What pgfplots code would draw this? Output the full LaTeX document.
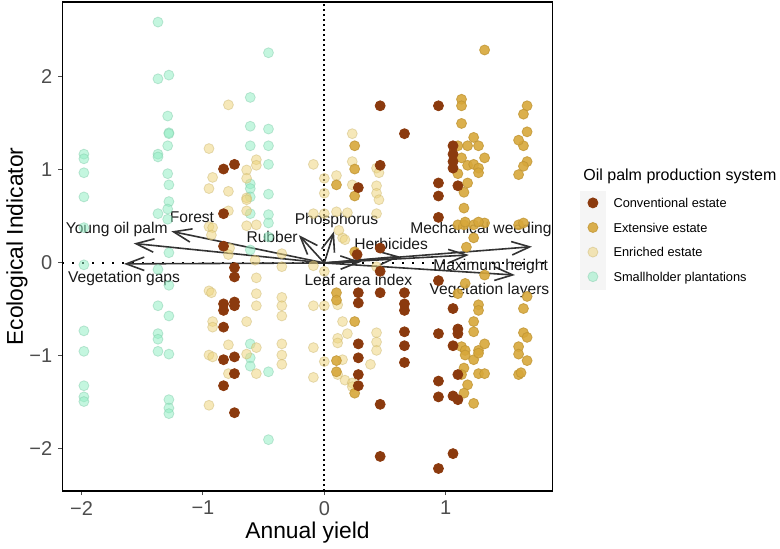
\documentclass[border=0pt]{standalone}
\usepackage{fontspec}
\setmainfont{Liberation Sans}
\usepackage{pgfplots}
\pgfplotsset{compat=1.18}
\usetikzlibrary{arrows.meta}
\definecolor{cConv}{HTML}{8B3A0E}
\definecolor{cExt}{HTML}{D7A73A}
\definecolor{cEnr}{HTML}{EED580}
\definecolor{cSmall}{HTML}{94EEC5}
\definecolor{tickgray}{HTML}{4D4D4D}
\definecolor{arrowgray}{HTML}{333333}
\begin{document}
\begin{tikzpicture}
\path[use as bounding box] (-31.15pt,-28.5pt) rectangle (358.85pt,245.5pt);
\fill[black!4] (258.85pt,100.5pt) rectangle (271.7pt,150.2pt);
\node[anchor=base west, inner sep=0pt, font=\fontsize{8}{9.6}\selectfont] at (260.35pt,155.1pt) {Oil palm production system};
\begin{axis}[
  scale only axis, width=245.2pt, height=244.5pt,
  xmin=-2.158, xmax=1.881, ymin=-2.452, ymax=2.806,
  axis line style={draw=none},
  tick align=outside, major tick length=2pt,
  xtick pos=lower, ytick pos=left,
  tick style={tickgray, line width=0.5pt},
  xtick={-2,-1,0,1}, xticklabels={−2,−1,0,1},
  ytick={-2,-1,0,1,2}, yticklabels={−2,−1,0,1,2},
  ticklabel style={font=\fontsize{10}{12}\selectfont, text=tickgray},
  xticklabel style={inner sep=0pt, anchor=north, yshift=-2.9pt},
  yticklabel style={inner sep=0pt, anchor=east, xshift=-2.8pt},
  xlabel={Annual yield}, ylabel={Ecological Indicator},
  label style={font=\fontsize{11.4}{13.7}\selectfont},
  xlabel style={at={(axis description cs:0.5,-0.0859)}, anchor=center},
  ylabel style={at={(axis description cs:-0.0924,0.5)}, anchor=center},
  reverse legend,
  legend style={at={(axis description cs:1.0718,0.5994)}, anchor=north west,
    draw=none, fill=none, inner sep=0pt, outer sep=0pt,
    row sep=7.3pt, column sep=7.8pt,
    font=\fontsize{6.4}{7.7}\selectfont,
    nodes={inner sep=0pt, anchor=base west, text height=4.6pt, text depth=0pt}},
  legend cell align=left,
  legend image code/.code={\draw[#1] plot coordinates {(0pt,2.3pt)};},
]
% Smallholder plantations
\addplot[only marks, mark=*, mark size=2.5pt, mark options={fill=cSmall, draw=cSmall!85!black, fill opacity=0.55, draw opacity=0.45, line width=0.4pt}] coordinates {
(-1.98,1.17) (-1.98,1.12) (-1.98,0.97) (-1.98,0.71) (-1.98,0.38)
(-1.37,2.59) (-1.37,1.98) (-1.37,1.17) (-1.37,1.14) (-1.37,0.53)
(-1.28,2.02) (-1.29,1.58) (-1.28,1.40) (-1.28,1.39) (-1.29,1.26) (-1.29,0.96) (-1.28,0.84) (-1.28,0.66) (-1.29,0.58) (-1.29,0.47)
(-0.61,1.78) (-0.61,1.47) (-0.61,1.26) (-0.61,0.85) (-0.61,0.80) (-0.61,0.71) (-0.61,0.53)
(-0.46,2.26) (-0.46,1.44) (-0.46,1.26) (-0.46,1.06) (-0.46,0.74) (-0.46,0.52) (-0.46,0.43) (-0.46,0.28)
(-1.98,-0.02) (-1.98,-0.73) (-1.98,-0.95) (-1.98,-1.32) (-1.98,-1.44) (-1.98,-1.49)
(-1.37,-0.07) (-1.37,-0.76) (-1.37,-0.82) (-1.37,-0.95) (-1.37,-0.46)
(-1.28,0.11) (-1.28,-0.24) (-1.28,-0.57) (-1.28,-0.98) (-1.28,-1.47) (-1.28,-1.56) (-1.28,-1.62)
(-0.61,0.14) (-0.61,-0.87) (-0.61,-1.02) (-0.61,-1.11)
(-0.46,-1.17) (-0.46,-1.90)
};
\addlegendentry{Smallholder plantations}
% Enriched estate
\addplot[only marks, mark=*, mark size=2.5pt, mark options={fill=cEnr, draw=cEnr!85!black, fill opacity=0.55, draw opacity=0.45, line width=0.4pt}] coordinates {
(-0.95,1.23) (-0.95,0.80) (-0.95,0.39) (-0.92,0.92) (-0.92,0.38) (-0.93,0.30) (-0.79,1.70) (-0.79,0.77) (-0.79,0.56)
(-0.64,1.00) (-0.64,0.91) (-0.64,0.70) (-0.64,0.68) (-0.64,0.56) (-0.64,0.40) (-0.56,1.11) (-0.56,1.05)
(-0.09,1.06) (-0.09,0.53) (0.0,0.91) (0.0,0.75) (0.0,0.53) (-0.56,0.41) (0.10,0.55) (0.19,0.54) (0.15,0.27)
(-0.78,0.16) (-0.57,0.03) (-0.35,0.10) (-0.35,-0.04)
(0.23,1.39) (0.23,1.09) (0.23,0.84) (0.43,1.02) (0.45,0.97) (0.43,0.83) (0.43,0.75) (0.45,0.68) (0.43,0.53)
(0.10,0.94) (0.12,0.35) (0.17,0.25)
(-0.95,-0.30) (-0.93,-0.32) (-0.92,-0.63) (-0.92,-0.69) (-0.95,-0.99) (-0.92,-1.01) (-0.95,-1.53)
(-0.79,0.09) (-0.79,-0.88) (-0.79,-1.19) (-0.64,-0.63) (-0.64,-0.98)
(-0.56,-0.16) (-0.56,-0.33) (-0.56,-0.46) (-0.56,-0.91) (-0.56,-1.19)
(-0.35,-0.37) (-0.35,-0.46) (-0.35,-0.57) (-0.35,-0.87) (-0.35,-0.99) (-0.35,-1.09)
(-0.09,-0.03) (-0.09,-0.46) (-0.09,-0.91) (-0.09,-1.23) (0.0,-0.09) (0.0,-0.46) (0.0,-1.06)
(0.11,-0.45) (0.15,-0.63) (0.19,-0.76) (0.11,-0.81) (0.11,-0.86) (0.15,-1.04) (0.11,-1.20) (0.17,-1.26) (0.23,-1.29) (0.23,-1.33)
(0.43,-0.04) (0.43,-0.75) (0.43,-0.85) (0.43,-0.94) (0.38,-1.09)
};
\addlegendentry{Enriched estate}
% Extensive estate
\addplot[only marks, mark=*, mark size=2.5pt, mark options={fill=cExt, draw=cExt!90!black, fill opacity=0.9, draw opacity=0.8, line width=0.4pt}] coordinates {
(1.32,2.29) (1.13,1.76) (1.13,1.69) (1.13,1.50) (1.13,1.13) (1.10,1.26) (1.10,0.96) (1.18,1.26) (1.18,1.05) (1.18,0.86)
(1.23,1.35) (1.23,1.06) (1.27,1.26) (1.27,1.02) (1.27,0.97) (1.32,1.13) (1.15,0.76) (1.15,0.59) (1.15,0.41) (1.10,0.41)
(1.23,0.41) (1.32,0.43) (1.67,1.69) (1.67,1.41) (1.64,1.60) (1.64,1.26) (1.60,1.32) (1.60,0.95) (1.67,1.09) (1.64,1.04)
(1.60,0.41) (1.64,0.43) (0.25,1.26) (0.25,1.01) (0.25,0.72) (0.10,0.84) (1.23,0.27) (1.17,0.17) (1.32,-0.13) (1.16,0.44)
(1.27,0.44) (0.25,0.12)
(0.10,-0.32) (0.10,-0.40) (0.10,-1.05) (0.10,-1.17) (0.25,-0.63) (0.25,-1.40)
(1.10,-0.33) (1.13,-0.90) (1.15,-1.13) (1.13,-1.20) (1.18,-1.31) (1.15,-1.40)
(1.23,-0.63) (1.23,-0.74) (1.23,-1.04) (1.23,-1.51)
(1.27,-0.45) (1.27,-0.51) (1.27,-0.94) (1.27,-0.97) (1.27,-1.19)
(1.32,-0.87) (1.32,-1.19) (1.16,-0.94) (1.16,-0.99) (1.16,-0.22)
(1.67,-0.36) (1.64,-0.49) (1.64,-0.75) (1.67,-0.80) (1.60,-0.90) (1.60,-0.98) (1.67,-1.05) (1.60,-1.20) (1.62,-1.18)
};
\addlegendentry{Extensive estate}
% Conventional estate
\addplot[only marks, mark=*, mark size=2.5pt, mark options={fill=cConv, draw=cConv, line width=0.4pt}] coordinates {
(-0.83,1.01) (-0.83,0.53) (-0.83,0.18) (-0.74,1.06) (-0.74,-0.05) (-0.74,-0.15) (-0.83,-0.44) (-0.83,-0.51) (-0.83,-0.69)
(-0.83,-1.04) (-0.83,-1.32) (-0.74,-0.42) (-0.74,-0.46) (-0.74,-1.01) (-0.74,-1.19) (-0.74,-1.61)
(0.46,1.69) (0.46,1.05) (0.66,1.39) (0.94,1.69) (0.94,0.86) (0.94,0.72) (0.94,0.49) (0.28,0.81)
(1.06,1.26) (1.06,1.17) (1.06,1.09) (1.06,1.02) (1.10,0.83) (0.46,0.16) (0.27,0.09)
(0.28,-0.32) (0.28,-0.43) (0.28,-0.87) (0.28,-1.02) (0.28,-1.20) (0.28,-1.32)
(0.46,-0.09) (0.46,-0.32) (0.46,-1.52) (0.46,-2.08)
(0.66,-0.32) (0.66,-0.44) (0.66,-0.51) (0.66,-0.74) (0.66,-0.89) (0.66,-1.07)
(0.94,-0.19) (0.94,-0.76) (0.94,-1.27) (0.94,-1.44) (0.94,-2.21)
(1.06,-0.49) (1.06,-0.89) (1.06,-1.43) (1.06,-2.05)
(1.10,-0.71) (1.10,-0.76) (1.10,-1.20) (1.10,-1.47)
};
\addlegendentry{Conventional estate}
% reference lines
\addplot[forget plot, black, line width=0.75pt, dash pattern=on 0.75pt off 4.25pt] coordinates {(-2.158,0) (1.881,0)};
\addplot[forget plot, black, line width=0.95pt, dash pattern=on 0.95pt off 1.55pt] coordinates {(0,-2.452) (0,2.806)};
% loadings arrows
\addplot[forget plot, arrowgray, line width=0.8pt, -{Straight Barb[length=9pt,width=6.7pt]}] coordinates {(0,0) (-1.26,0.34)};
\addplot[forget plot, arrowgray, line width=0.8pt, -{Straight Barb[length=9pt,width=6.7pt]}] coordinates {(0,0) (-1.57,0.21)};
\addplot[forget plot, arrowgray, line width=0.8pt, -{Straight Barb[length=9pt,width=6.7pt]}] coordinates {(0,0) (-1.65,-0.01)};
\addplot[forget plot, arrowgray, line width=0.8pt, -{Straight Barb[length=9pt,width=6.7pt]}] coordinates {(0,0) (-0.21,0.30)};
\addplot[forget plot, arrowgray, line width=0.8pt, -{Straight Barb[length=9pt,width=6.7pt]}] coordinates {(0,0) (0.08,0.34)};
\addplot[forget plot, arrowgray, line width=0.8pt, -{Straight Barb[length=9pt,width=6.7pt]}] coordinates {(0,0) (0.62,0.07)};
\addplot[forget plot, arrowgray, line width=0.8pt, -{Straight Barb[length=9pt,width=6.7pt]}] coordinates {(0,0) (0.30,0.01)};
\addplot[forget plot, arrowgray, line width=0.8pt, -{Straight Barb[length=9pt,width=6.7pt]}] coordinates {(0,0) (1.71,0.175)};
\addplot[forget plot, arrowgray, line width=0.8pt, -{Straight Barb[length=9pt,width=6.7pt]}] coordinates {(0,0) (1.19,0.086)};
\addplot[forget plot, arrowgray, line width=0.8pt, -{Straight Barb[length=9pt,width=6.7pt]}] coordinates {(0,0) (1.57,-0.13)};
% labels
\begin{scope}[every node/.style={font=\fontsize{7.8}{9.4}\selectfont, inner sep=0pt, text=black!90}]
\node at (axis cs:-1.71,0.355) {Young oil palm};
\node at (axis cs:-1.09,0.487) {Forest};
\node at (axis cs:-1.65,-0.165) {Vegetation gaps};
\node at (axis cs:-0.43,0.28) {Rubber};
\node at (axis cs:0.10,0.46) {Phosphorus};
\node at (axis cs:0.55,0.21) {Herbicides};
\node at (axis cs:0.28,-0.18) {Leaf area index};
\node at (axis cs:1.29,0.355) {Mechanical weeding};
\node at (axis cs:1.37,-0.04) {Maximum height};
\node at (axis cs:1.36,-0.30) {Vegetation layers};
\end{scope}
\end{axis}
\draw[black, line width=0.6pt] (0pt,0pt) rectangle (245.2pt,244.5pt);
\end{tikzpicture}
\end{document}
